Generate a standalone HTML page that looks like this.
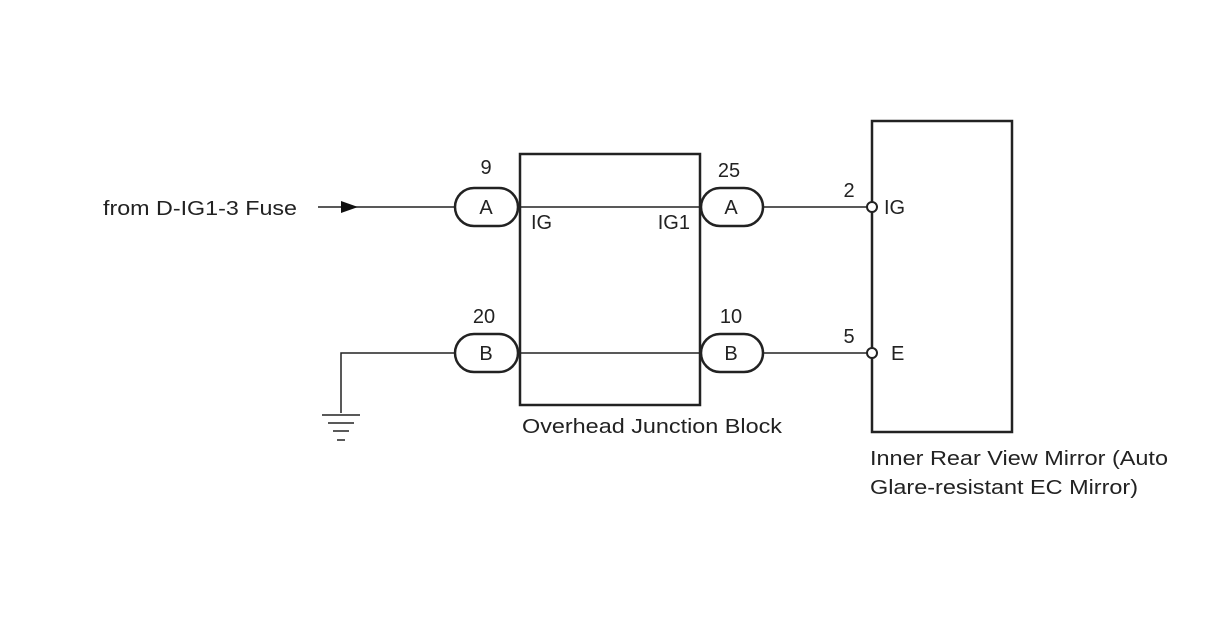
<!DOCTYPE html>
<html><head><meta charset="utf-8"><style>html,body{margin:0;padding:0;background:#fff;}svg{display:block;}</style></head>
<body>
<svg width="1208" height="644" viewBox="0 0 1208 644" xmlns="http://www.w3.org/2000/svg" font-family="Liberation Sans, Arial, sans-serif" fill="none" stroke="#222">
<rect x="0" y="0" width="1208" height="644" fill="#fff" stroke="none"/>
<rect x="520" y="154" width="180" height="251" stroke-width="2.5"/>
<rect x="872" y="121" width="140" height="311" stroke-width="2.5"/>
<g stroke-width="1.5">
<line x1="318" y1="207" x2="455" y2="207"/>
<line x1="518" y1="207" x2="701" y2="207"/>
<line x1="763" y1="207" x2="867" y2="207"/>
<polyline points="341,413 341,353 455,353"/>
<line x1="518" y1="353" x2="701" y2="353"/>
<line x1="763" y1="353" x2="867" y2="353"/>
<line x1="322" y1="415" x2="360" y2="415"/>
<line x1="328" y1="423" x2="354" y2="423"/>
<line x1="333" y1="431" x2="349" y2="431"/>
<line x1="337" y1="440" x2="345" y2="440"/>
</g>
<polygon points="341,201 358,207 341,213" fill="#111" stroke="none"/>
<g stroke-width="2.5" fill="#fff">
<rect x="455" y="188" width="63" height="38" rx="19"/>
<rect x="455" y="334" width="63" height="38" rx="19"/>
<rect x="701" y="188" width="62" height="38" rx="19"/>
<rect x="701" y="334" width="62" height="38" rx="19"/>
<circle cx="872" cy="207" r="5" stroke-width="2"/>
<circle cx="872" cy="353" r="5" stroke-width="2"/>
</g>
<g fill="#222" stroke="none" font-size="20">
<text x="486" y="214" text-anchor="middle">A</text>
<text x="486" y="360" text-anchor="middle">B</text>
<text x="731" y="214" text-anchor="middle">A</text>
<text x="731" y="360" text-anchor="middle">B</text>
<text x="486" y="174" text-anchor="middle">9</text>
<text x="484" y="323" text-anchor="middle">20</text>
<text x="729" y="177" text-anchor="middle">25</text>
<text x="731" y="323" text-anchor="middle">10</text>
<text x="531" y="229">IG</text>
<text x="690" y="229" text-anchor="end">IG1</text>
<text x="849" y="197" text-anchor="middle">2</text>
<text x="849" y="343" text-anchor="middle">5</text>
<text x="884" y="214">IG</text>
<text x="891" y="360">E</text>
<text x="103" y="215" textLength="194" lengthAdjust="spacingAndGlyphs">from D-IG1-3 Fuse</text>
<text x="522" y="433" textLength="260" lengthAdjust="spacingAndGlyphs">Overhead Junction Block</text>
<text x="870" y="465" textLength="298" lengthAdjust="spacingAndGlyphs">Inner Rear View Mirror (Auto</text>
<text x="870" y="494" textLength="268" lengthAdjust="spacingAndGlyphs">Glare-resistant EC Mirror)</text>
</g>
</svg>
</body></html>
